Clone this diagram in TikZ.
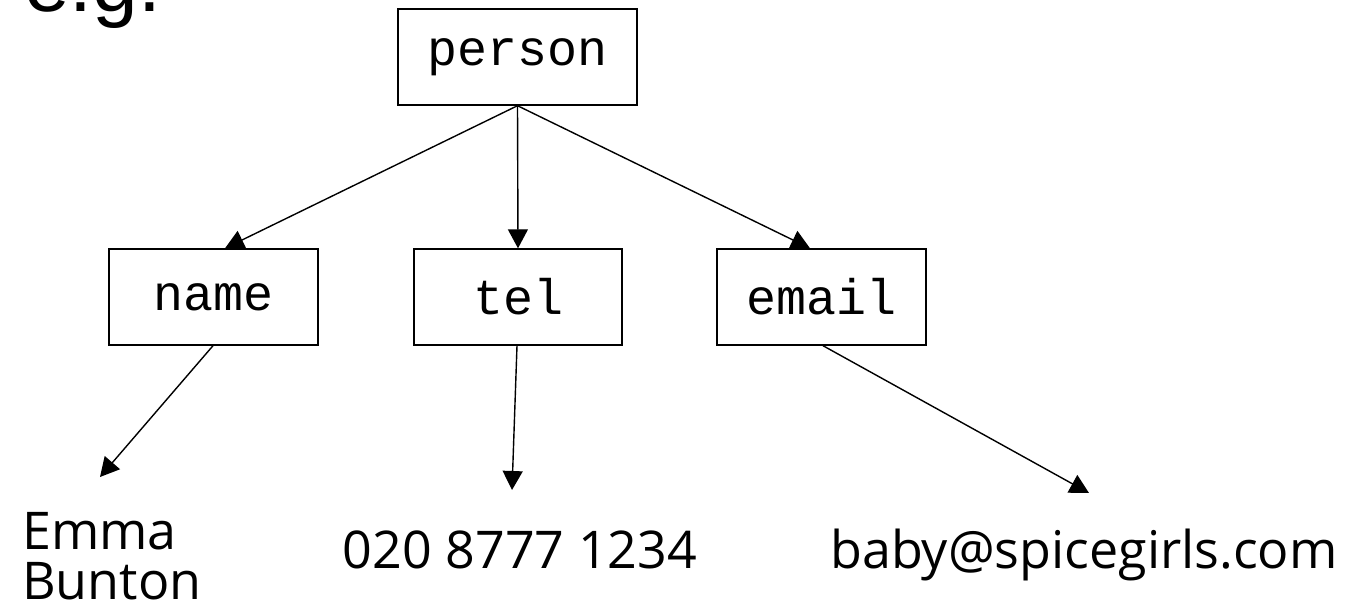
\documentclass[tikz,border=0pt]{standalone}
\usepackage{fontspec}
\setmainfont{Liberation Sans}
\newfontfamily\boxfont{Liberation Mono}
\newfontfamily\leaffont{Open Sans}
\usetikzlibrary{arrows.meta}
\begin{document}
\begin{tikzpicture}[x=1pt,y=-1pt,
  tagbox/.style={draw, line width=1.4pt, inner sep=0pt, minimum height=96pt,
    font=\boxfont\fontsize{50}{50}\selectfont},
  leaf/.style={inner sep=0pt, font=\leaffont\fontsize{52}{50}\selectfont},
  link/.style={line width=1.4pt, -{Triangle[length=19pt,width=20pt]}}]
\useasboundingbox (0,0) rectangle (1356,605);
\node[anchor=base west, inner sep=0pt, font=\fontsize{82}{82}\selectfont] (eg) at (24,12) {e.g.};
\node[tagbox, minimum width=239pt] (person) at (517.5,57) {person};
\node[tagbox, minimum width=209pt] (name) at (213.5,297) {name};
\node[tagbox, minimum width=208pt] (tel) at (518,297) {tel};
\node[tagbox, minimum width=209pt] (email) at (821.5,297) {email};
\node[leaf, align=left, anchor=north west] (emma) at (22,512) {Emma\\Bunton};
\node[leaf, anchor=base] (telval) at (520,568) {020 8777 1234};
\node[leaf, anchor=base west] (emailval) at (830,568) {baby@spicegirls.com};
\coordinate (nametip) at (100,477);
\coordinate (teltip) at (512,490);
\coordinate (emailtip) at (1089,493);
\draw[link] (person.south) -- ([xshift=11.5pt]name.north);
\draw[link] (person.south) -- (tel.north);
\draw[link] (person.south) -- ([xshift=-11.5pt]email.north);
\draw[link] ([xshift=-0.5pt]name.south) -- (nametip);
\draw[link] ([xshift=-1pt]tel.south) -- (teltip);
\draw[link] ([xshift=1.5pt]email.south) -- (emailtip);
\end{tikzpicture}
\end{document}
